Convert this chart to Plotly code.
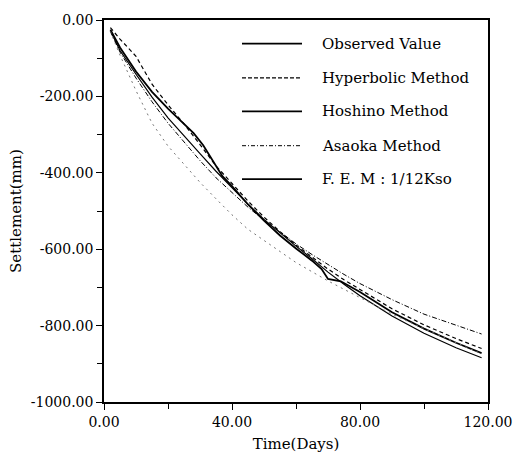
import plotly.graph_objects as go

obs_days = [2, 5, 10, 15, 20, 24, 28, 31, 34, 37, 40, 45, 50, 55, 60, 65, 68, 70, 74, 80, 90, 100, 110, 118]
observed = [-25, -72, -135, -188, -232, -264, -296, -328, -370, -409, -435, -483, -525, -564, -598, -630, -652, -678, -684, -712, -765, -808, -845, -872]

days = [2, 5, 10, 15, 20, 25, 30, 35, 40, 45, 50, 55, 60, 65, 70, 75, 80, 90, 100, 110, 118]
hyperbolic = [-20, -50, -95, -168, -222, -272, -326, -382, -428, -474, -516, -554, -589, -621, -652, -680, -706, -756, -798, -834, -860]
hoshino = [-28, -80, -142, -202, -256, -304, -350, -396, -440, -482, -522, -558, -592, -625, -660, -692, -722, -775, -820, -858, -884]
asaoka = [-30, -84, -152, -214, -270, -320, -368, -413, -452, -490, -524, -556, -586, -614, -641, -666, -690, -732, -770, -800, -822]
fem = [-30, -92, -185, -270, -330, -378, -425, -468, -510, -548, -578, -606, -635, -660, -683, -705, -727, -770, -808, -845, -874]

series_names = ["Observed Value", "Hyperbolic Method", "Hoshino Method", "Asaoka Method", "F. E. M : 1/12Kso"]
series_days = [obs_days, days, days, days, days]
series_values = [observed, hyperbolic, hoshino, asaoka, fem]

x_tickvals = [0, 40, 80, 120]
x_ticktext = ["0.00", "40.00", "80.00", "120.00"]
y_tickvals = [0, -200, -400, -600, -800, -1000]
y_ticktext = ["0.00", "-200.00", "-400.00", "-600.00", "-800.00", "-1000.00"]

styles = [
    dict(color="black", width=1.8, dash="solid"),
    dict(color="black", width=1.2, dash="4px,3px"),
    dict(color="black", width=1.2, dash="solid"),
    dict(color="black", width=1.0, dash="5px,2px,1px,2px"),
    dict(color="#777777", width=1.0, dash="2px,4px"),
]
legend_styles = [
    dict(color="black", width=1.8, dash="solid"),
    dict(color="black", width=1.2, dash="4px,2px"),
    dict(color="black", width=1.8, dash="solid"),
    dict(color="black", width=1.0, dash="4px,2px,1px,2px"),
    dict(color="black", width=1.8, dash="solid"),
]

FONT = "DejaVu Serif"

fig = go.Figure()
for name, xs, vals, st in zip(series_names, series_days, series_values, styles):
    fig.add_trace(go.Scatter(x=xs, y=vals, mode="lines", name=name, line=st,
                             showlegend=False))

# manual legend (paper coords)
L, R, T, B = 104, 488, 13, 402
def px_x(p):
    return (p - L) / (R - L)
def px_y(p):
    return (B - p) / (B - T)

rows = [37, 72, 106, 141, 175]
for name, st, ry in zip(series_names, legend_styles, rows):
    fig.add_shape(type="line", xref="paper", yref="paper",
                  x0=px_x(242), x1=px_x(302), y0=px_y(ry), y1=px_y(ry),
                  line=st)
    fig.add_annotation(xref="paper", yref="paper", x=px_x(320), y=px_y(ry),
                       text=name, showarrow=False, xanchor="left", yanchor="middle",
                       font=dict(family=FONT, size=15, color="black"))

axis_common = dict(showline=True, linecolor="black", linewidth=1.5, mirror=True,
                   showgrid=False, zeroline=False, ticks="outside", ticklen=6,
                   tickwidth=1.3, tickcolor="black",
                   tickfont=dict(family=FONT, size=14, color="black"))

fig.update_xaxes(range=[0, 120], tickvals=x_tickvals, ticktext=x_ticktext,
                 minor=dict(dtick=20, ticks="outside", ticklen=5, tickwidth=1.3, tickcolor="black"),
                 title=dict(text="Time(Days)", font=dict(family=FONT, size=15, color="black"), standoff=10),
                 **axis_common)
fig.update_yaxes(range=[-1000, 0], tickvals=y_tickvals, ticktext=y_ticktext,
                 minor=dict(dtick=100, ticks="outside", ticklen=5, tickwidth=1.3, tickcolor="black"),
                 title=dict(text="Settlement(mm)", font=dict(family=FONT, size=15, color="black"), standoff=6),
                 **axis_common)

fig.update_layout(width=527, height=467, margin=dict(l=L, r=527 - R, t=T, b=467 - B),
                  paper_bgcolor="white", plot_bgcolor="white",
                  font=dict(family=FONT, color="black"))

fig.write_html("out.html")
